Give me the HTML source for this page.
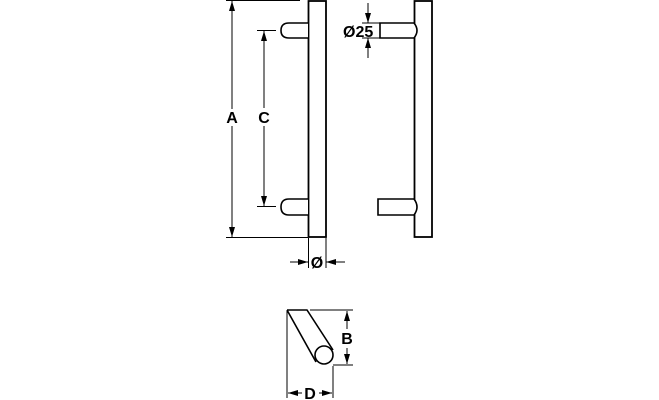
<!DOCTYPE html>
<html><head><style>body{margin:0;background:#fff}svg{display:block}text{font-family:"Liberation Sans",Arial,sans-serif;font-weight:bold;fill:#000}</style></head><body>
<svg width="659" height="400" viewBox="0 0 659 400" xmlns="http://www.w3.org/2000/svg">
<defs><marker id="a" viewBox="0 0 10 6" refX="10" refY="3" markerWidth="10" markerHeight="6" orient="auto" markerUnits="userSpaceOnUse"><path d="M0,0 L10,3 L0,6 z" fill="#000"/></marker></defs>
<g stroke="#000" fill="none" stroke-width="1">
<rect x="308.5" y="1" width="17.5" height="236" fill="#fff" stroke-width="1.8"/>
<path d="M308,23 H289 Q281,23 281,30.5 Q281,38 289,38 H308" fill="#fff" stroke-width="1.6"/>
<path d="M308,199 H289 Q281,199 281,207 Q281,215 289,215 H308" fill="#fff" stroke-width="1.6"/>
<line x1="226" y1="0.5" x2="300" y2="0.5"/>
<line x1="226" y1="237.5" x2="308" y2="237.5"/>
<line x1="232" y1="109" x2="232" y2="1" marker-end="url(#a)"/>
<line x1="232" y1="126" x2="232" y2="237" marker-end="url(#a)"/>
<line x1="257" y1="30.5" x2="276" y2="30.5"/>
<line x1="257" y1="206.5" x2="276" y2="206.5"/>
<line x1="264" y1="108" x2="264" y2="31" marker-end="url(#a)"/>
<line x1="264" y1="126" x2="264" y2="206" marker-end="url(#a)"/>
<line x1="308.5" y1="238" x2="308.5" y2="268"/>
<line x1="326" y1="238" x2="326" y2="268"/>
<line x1="290" y1="262" x2="308" y2="262" marker-end="url(#a)"/>
<line x1="345" y1="262" x2="326" y2="262" marker-end="url(#a)"/>
<rect x="414.5" y="1" width="17.5" height="236" fill="#fff" stroke-width="1.8"/>
<path d="M380,23 H414 Q420,30.5 414,38 H380 Z" fill="#fff" stroke-width="1.6"/>
<path d="M378,199 H414 Q420,207 414,215 H378 Z" fill="#fff" stroke-width="1.6"/>
<line x1="362" y1="23" x2="380" y2="23"/>
<line x1="362" y1="38" x2="380" y2="38"/>
<line x1="368" y1="3" x2="368" y2="23" marker-end="url(#a)"/>
<line x1="368" y1="58" x2="368" y2="38" marker-end="url(#a)"/>
<path d="M287,310 H307 L333,350 M287,310 L316,362" stroke-width="1.6"/>
<circle cx="324" cy="355" r="9" fill="#fff" stroke-width="1.6"/>
<line x1="310" y1="310" x2="353" y2="310"/>
<line x1="333" y1="365" x2="353" y2="365"/>
<line x1="347" y1="329" x2="347" y2="311" marker-end="url(#a)"/>
<line x1="347" y1="348" x2="347" y2="364" marker-end="url(#a)"/>
<line x1="287" y1="311" x2="287" y2="398"/>
<line x1="333" y1="366" x2="333" y2="398"/>
<line x1="302" y1="393" x2="288" y2="393" marker-end="url(#a)"/>
<line x1="319" y1="393" x2="332" y2="393" marker-end="url(#a)"/>
</g>
<text x="232" y="123" font-size="16" text-anchor="middle">A</text>
<text x="264" y="123" font-size="16" text-anchor="middle">C</text>
<text x="317" y="268" font-size="16" text-anchor="middle">Ø</text>
<text x="343" y="37" font-size="16">Ø25</text>
<text x="347" y="344" font-size="16" text-anchor="middle">B</text>
<text x="310" y="399" font-size="16" text-anchor="middle">D</text>
</svg>
</body></html>
